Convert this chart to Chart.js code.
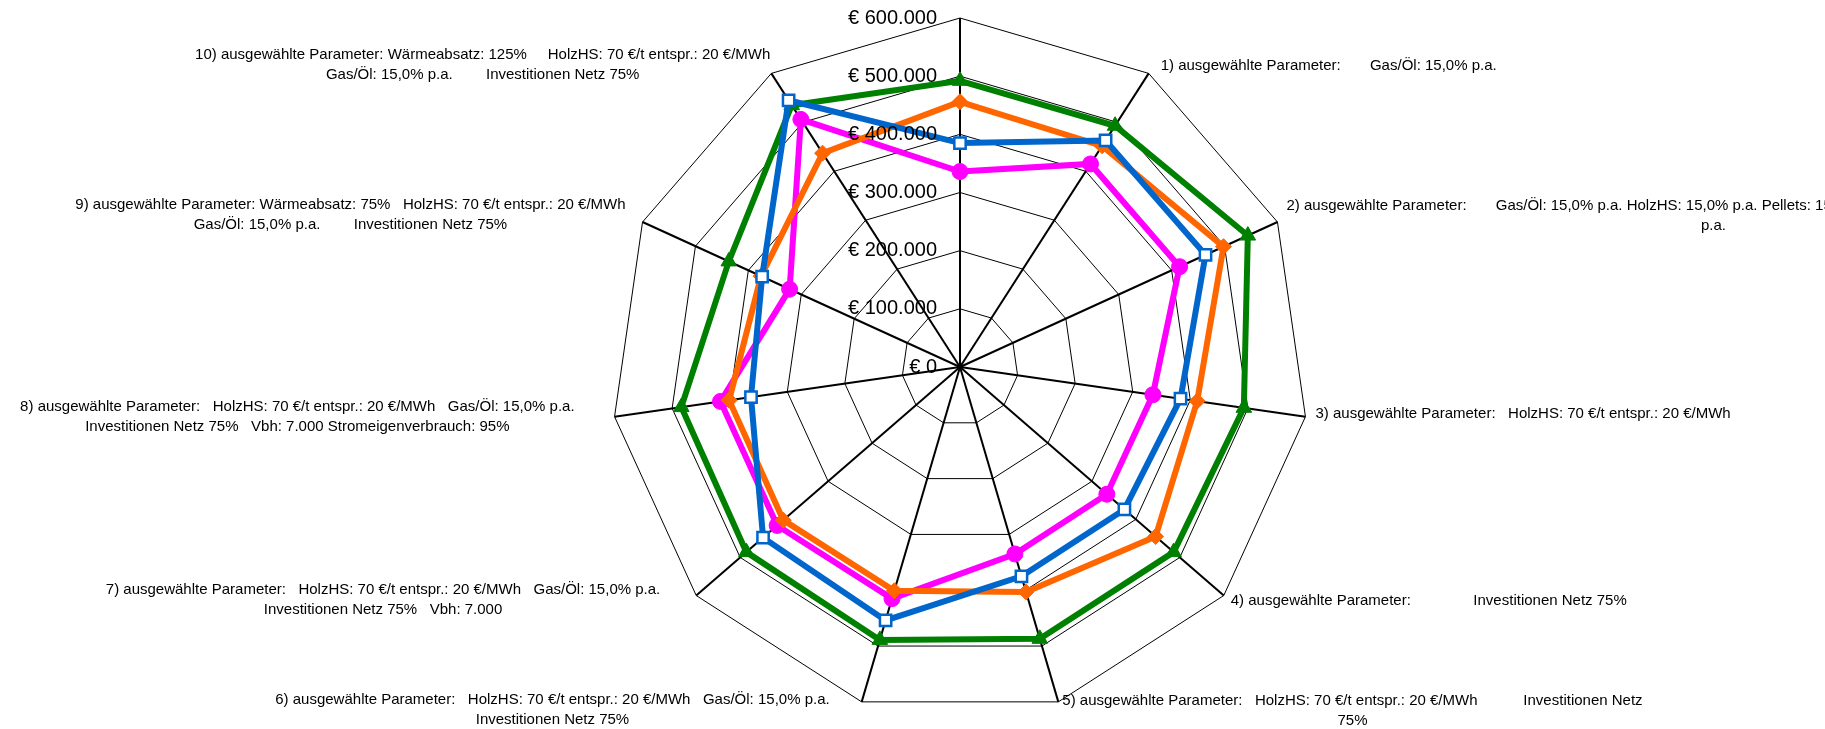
<!DOCTYPE html>
<html lang="de">
<head>
<meta charset="utf-8">
<title>Variantenvergleich</title>
<script src="https://cdn.jsdelivr.net/npm/chart.js@4.4.1/dist/chart.umd.min.js"></script>
<style>
  html, body { margin: 0; padding: 0; background: #ffffff; }
  #wrap { position: relative; width: 1825px; height: 729px; overflow: hidden; }
</style>
</head>
<body>
<div id="wrap"><canvas id="radar" width="1825" height="729"></canvas></div>
<script>
// Spoke captions (one entry per spoke, one string per text line)
const categories = [
  ['Ausgangsvariante'],
  ['1) ausgewählte Parameter:       Gas/Öl: 15,0% p.a.'],
  ['2) ausgewählte Parameter:       Gas/Öl: 15,0% p.a. HolzHS: 15,0% p.a. Pellets: 15,0%', 'p.a.'],
  ['3) ausgewählte Parameter:   HolzHS: 70 €/t entspr.: 20 €/MWh'],
  ['4) ausgewählte Parameter:               Investitionen Netz 75%'],
  ['5) ausgewählte Parameter:   HolzHS: 70 €/t entspr.: 20 €/MWh           Investitionen Netz', '75%'],
  ['6) ausgewählte Parameter:   HolzHS: 70 €/t entspr.: 20 €/MWh   Gas/Öl: 15,0% p.a.', 'Investitionen Netz 75%'],
  ['7) ausgewählte Parameter:   HolzHS: 70 €/t entspr.: 20 €/MWh   Gas/Öl: 15,0% p.a.', 'Investitionen Netz 75%   Vbh: 7.000'],
  ['8) ausgewählte Parameter:   HolzHS: 70 €/t entspr.: 20 €/MWh   Gas/Öl: 15,0% p.a.', 'Investitionen Netz 75%   Vbh: 7.000 Stromeigenverbrauch: 95%'],
  ['9) ausgewählte Parameter: Wärmeabsatz: 75%   HolzHS: 70 €/t entspr.: 20 €/MWh', 'Gas/Öl: 15,0% p.a.        Investitionen Netz 75%'],
  ['10) ausgewählte Parameter: Wärmeabsatz: 125%     HolzHS: 70 €/t entspr.: 20 €/MWh', 'Gas/Öl: 15,0% p.a.        Investitionen Netz 75%']
];

// Series values in €
const seriesGreen   = [492000, 493000, 544000, 493000, 486000, 487000, 489000, 486000, 484000, 437000, 535000];
const seriesOrange  = [456000, 452000, 498000, 412000, 445000, 403000, 401000, 402000, 401000, 376000, 437000];
const seriesBlue    = [385000, 463000, 464000, 383000, 374000, 375000, 454000, 448000, 363000, 374000, 545000];
const seriesMagenta = [336000, 415000, 415000, 335000, 334000, 335000, 415000, 416000, 416000, 322000, 506000];

// Value axis
const axisMin = 0;
const axisMax = 600000;
const axisStep = 100000;

// Caption placement around each outer vertex
const captionPlacement = [
  { align: 'center', dx: 0,   dy: -40 },
  { align: 'left',   dx: 12,  dy: -8 },
  { align: 'left',   dx: 9,   dy: -6, lineCenter: [null, 427] },
  { align: 'left',   dx: 10,  dy: -3 },
  { align: 'left',   dx: 7,   dy: 5 },
  { align: 'left',   dx: 4,   dy: 9 },
  { align: 'right',  dx: -32, dy: 8 },
  { align: 'right',  dx: -36, dy: 4 },
  { align: 'right',  dx: -40, dy: 0 },
  { align: 'right',  dx: -17, dy: -7 },
  { align: 'right',  dx: -1,  dy: -9 }
];

const FONT = '"Liberation Sans", Arial, Helvetica, sans-serif';
const captionFont = '15px ' + FONT;
const captionLineHeight = 20;
const tickFont = '20px ' + FONT;

function euro(v) {
  return '€ ' + String(Math.round(v)).replace(/\B(?=(\d{3})+(?!\d))/g, '.');
}

// Value labels to the left of the vertical spoke
const tickLabelPlugin = {
  id: 'tickLabels',
  afterDatasetsDraw(chart) {
    const scale = chart.scales.r;
    const ctx = chart.ctx;
    ctx.save();
    ctx.font = tickFont;
    ctx.fillStyle = '#000';
    ctx.textAlign = 'right';
    ctx.textBaseline = 'middle';
    scale.ticks.forEach(t => {
      const d = scale.getDistanceFromCenterForValue(t.value);
      ctx.fillText(euro(t.value), scale.xCenter - 23, scale.yCenter - d);
    });
    ctx.restore();
  }
};

// Multi-line captions next to the outer vertices
const captionPlugin = {
  id: 'captions',
  afterDraw(chart) {
    const scale = chart.scales.r;
    const ctx = chart.ctx;
    const labels = chart.data.labels;
    ctx.save();
    ctx.font = captionFont;
    ctx.fillStyle = '#000';
    ctx.textBaseline = 'middle';
    ctx.textAlign = 'center';
    labels.forEach((lines, i) => {
      const p = scale.getPointPosition(i, scale.drawingArea);
      const place = captionPlacement[i];
      const widths = lines.map(l => ctx.measureText(l).width);
      const blockW = Math.max(...widths);
      let left;
      if (place.align === 'left') left = p.x + place.dx;
      else if (place.align === 'right') left = p.x + place.dx - blockW;
      else left = p.x + place.dx - blockW / 2;
      const cy = p.y + place.dy;
      const n = lines.length;
      lines.forEach((line, k) => {
        let cx = left + blockW / 2;
        if (place.lineCenter && place.lineCenter[k] != null) cx = left + place.lineCenter[k];
        const y = cy - (n - 1) * captionLineHeight / 2 + k * captionLineHeight;
        ctx.fillText(line, cx, y);
      });
    });
    ctx.restore();
  }
};

const ctx = document.getElementById('radar').getContext('2d');
new Chart(ctx, {
  type: 'radar',
  data: {
    labels: categories,
    datasets: [
      {
        label: 'Variante B',
        data: seriesBlue,
        borderColor: '#0066CC',
        backgroundColor: 'rgba(0,0,0,0)',
        fill: false,
        borderWidth: 6,
        pointStyle: 'rect',
        pointRadius: 8,
        pointBackgroundColor: '#ffffff',
        pointBorderColor: '#0066CC',
        pointBorderWidth: 2.5,
        order: 0
      },
      {
        label: 'Variante C',
        data: seriesOrange,
        borderColor: '#FF6600',
        backgroundColor: 'rgba(0,0,0,0)',
        fill: false,
        borderWidth: 6,
        pointStyle: 'rectRot',
        pointRadius: 8,
        pointBackgroundColor: '#FF6600',
        pointBorderColor: '#FF6600',
        pointBorderWidth: 1,
        order: 1
      },
      {
        label: 'Variante A',
        data: seriesGreen,
        borderColor: '#008000',
        backgroundColor: 'rgba(0,0,0,0)',
        fill: false,
        borderWidth: 6,
        pointStyle: 'triangle',
        pointRadius: 9,
        pointBackgroundColor: '#008000',
        pointBorderColor: '#008000',
        pointBorderWidth: 1,
        order: 2
      },
      {
        label: 'Variante D',
        data: seriesMagenta,
        borderColor: '#FF00FF',
        backgroundColor: 'rgba(0,0,0,0)',
        fill: false,
        borderWidth: 6,
        pointStyle: 'circle',
        pointRadius: 8,
        pointBackgroundColor: '#FF00FF',
        pointBorderColor: '#FF00FF',
        pointBorderWidth: 1,
        order: 3
      }
    ]
  },
  options: {
    responsive: false,
    animation: false,
    layout: { padding: { left: 460, right: 365, top: 18, bottom: 13 } },
    plugins: {
      legend: { display: false },
      tooltip: { enabled: false }
    },
    elements: { line: { tension: 0 } },
    scales: {
      r: {
        min: axisMin,
        max: axisMax,
        startAngle: 0,
        ticks: { stepSize: axisStep, display: false },
        pointLabels: { display: false },
        grid: { circular: false, color: '#000000', lineWidth: 1 },
        angleLines: { display: true, color: '#000000', lineWidth: 2 }
      }
    }
  },
  plugins: [tickLabelPlugin, captionPlugin]
});
</script>
</body>
</html>
